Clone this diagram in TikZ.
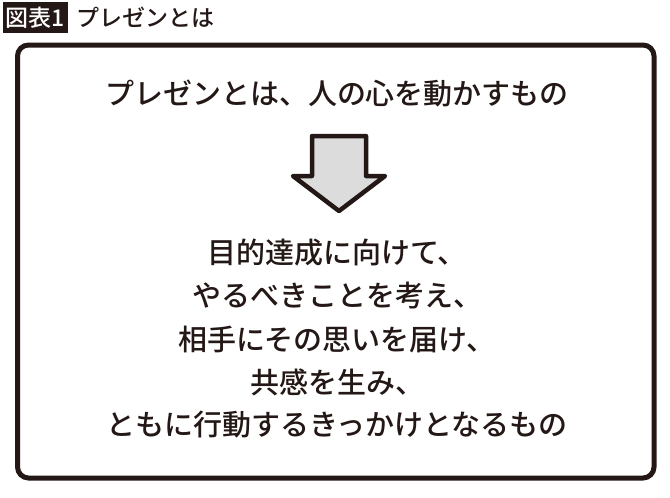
\documentclass[tikz,border=0pt]{standalone}
\usepackage{fontspec}
\setmainfont{Noto Sans CJK JP}[UprightFont={* Medium}, BoldFont={* Medium}]
\usetikzlibrary{positioning}
\definecolor{inkblack}{HTML}{231815}
\definecolor{arrowgray}{HTML}{DCDCDC}
\tikzset{
    headbox/.style={fill=inkblack, text=white, inner sep=0pt, minimum width=65pt, minimum height=31pt, font=\fontsize{23}{23}\selectfont},
    headtext/.style={text=inkblack, inner sep=0pt, anchor=west, font=\fontsize{23}{23}\selectfont},
    bodyline/.style={text=inkblack, inner sep=0pt, font=\fontsize{29}{29}\selectfont}
}

\begin{document}
\begin{tikzpicture}[x=1pt, y=-1pt]
                        \useasboundingbox (0, 0) rectangle (670, 498);

                        \node[headbox] (tag) at (35.5, 17.5) {図表1};
                        \node[headtext] (heading) at (76, 17) {プレゼンとは};

                        \draw[inkblack, line width=5pt, rounded corners=11pt]
                        (17.5, 45) rectangle (654, 478);

                        \node[bodyline] (claim) at (337, 94) {プレゼンとは、人の心を動かすもの};

                        \draw[inkblack, line width=4.5pt, line join=round, fill=arrowgray]
                        (312, 136) -- (366, 136) -- (366, 176) -- (385, 176)
                        -- (339, 211) -- (293, 176) -- (312, 176) -- cycle;

                        \node[bodyline] (goal) at (337, 253) {目的達成に向けて、};
                        \node[bodyline] (think) at (337, 296) {やるべきことを考え、};
                        \node[bodyline] (reach) at (337, 339) {相手にその思いを届け、};
                        \node[bodyline] (empathy) at (337, 382) {共感を生み、};
                        \node[bodyline] (action) at (337, 425) {ともに行動するきっかけとなるもの};
                    \end{tikzpicture}
\end{document}
